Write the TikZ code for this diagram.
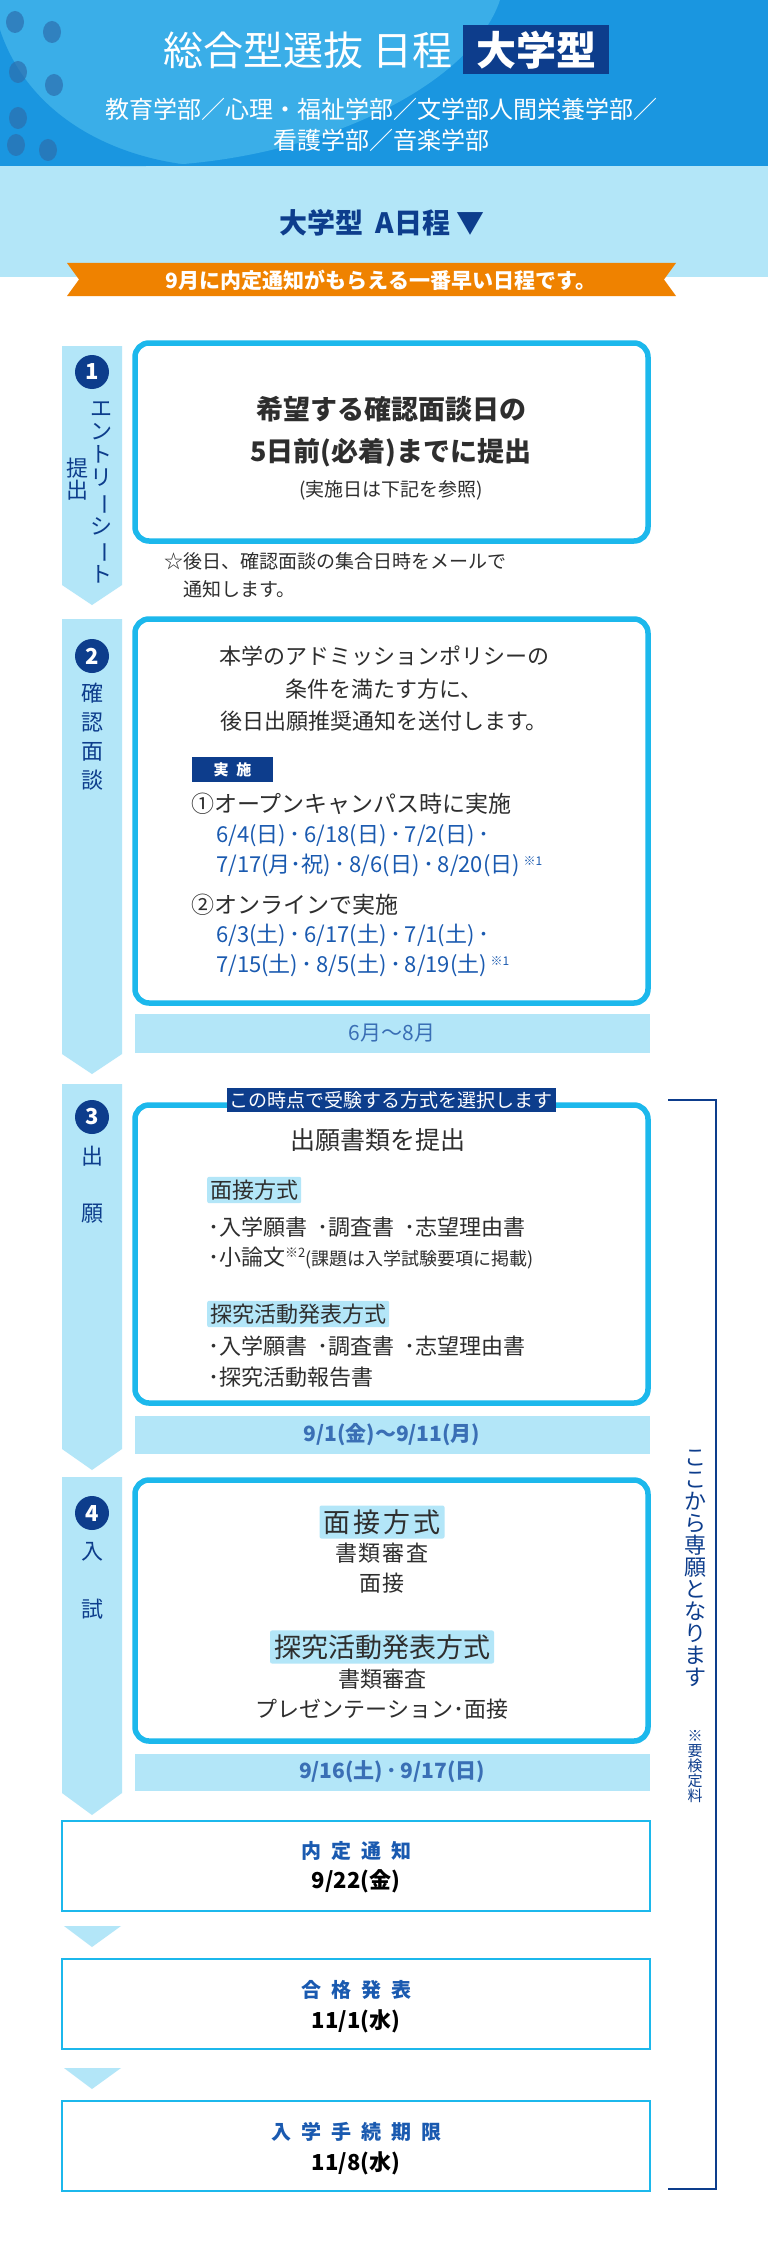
\documentclass[tikz,border=0pt]{standalone}
\usepackage{fontspec}
\setmainfont{Noto Sans CJK JP}
\usetikzlibrary{calc}
\definecolor{hdr}{HTML}{1A96E0}
\definecolor{hdrl}{HTML}{3AAEE8}
\definecolor{dot}{HTML}{2C6FAE}
\definecolor{pale}{HTML}{B3E6F8}
\definecolor{cyanb}{HTML}{1CB8EC}
\definecolor{navy}{HTML}{0D3D8C}
\definecolor{dblue}{HTML}{1A5AB0}
\definecolor{mblue}{HTML}{3A6FB5}
\definecolor{orng}{HTML}{EF8200}
\definecolor{txt}{HTML}{2E2E2E}
\newcommand\fs[1]{\fontsize{#1}{#1}\selectfont}
\newcommand\vbar{\rotatebox[origin=c]{-90}{ー}}
\tikzset{
  x=1pt,y=-1pt,
  bigbox/.style={draw=cyanb,line width=5.5pt,rounded corners=14pt,fill=white},
  thinbox/.style={draw=cyanb,line width=1.5pt,fill=white},
  sidebar/.style={fill=pale},
  numc/.style={circle,fill=navy,text=white,minimum size=34pt,inner sep=0pt,font=\fs{22}\bfseries},
  vtxt/.style={text=navy,align=center,font=\fs{22},inner sep=0pt},
  line/.style={text=txt,anchor=west,inner sep=0pt},
  dline/.style={text=dblue,anchor=west,inner sep=0pt,font=\fs{22}},
  datebar/.style={fill=pale},
  datetxt/.style={text=mblue,font=\fs{21}\bfseries,inner sep=0pt},
  hl/.style={fill=pale,rounded corners=2pt,inner sep=3pt,text=txt},
  navylab/.style={fill=navy,text=white,inner sep=3pt},
}
\begin{document}
\begin{tikzpicture}
\useasboundingbox (0,0) rectangle (768,2250);
\fill[white] (0,0) rectangle (768,2250);
% header
\fill[pale] (0,166) rectangle (768,277);
\fill[hdr] (0,0) rectangle (768,166);
\fill[hdrl] (0,0) -- (500,0) .. controls (470,90) and (300,170) .. (120,166) -- (0,166) -- cycle;
\fill[hdr] (0,30) .. controls (30,120) and (120,160) .. (200,166) -- (0,166) -- cycle;
\foreach \p in {(15,22),(52,32),(18,72),(54,85),(18,118),(48,150),(16,145)}
  \fill[dot,opacity=0.7] \p ellipse (9pt and 11pt);
\foreach \p in {(100,20),(80,60),(95,110)}
  \fill[hdrl,opacity=0.8] \p ellipse (9pt and 11pt);
\node[text=white,font=\fs{40},inner sep=0pt,anchor=east] (title) at (453,50) {総合型選抜 日程};
\node[fill=navy,text=white,font=\fs{40}\bfseries,minimum width=146pt,minimum height=49pt,inner sep=0pt] (titleb) at (536,50) {大学型};
\node[text=white,font=\fs{24},inner sep=0pt] (sub1) at (381,109) {教育学部／心理・福祉学部／文学部人間栄養学部／};
\node[text=white,font=\fs{24},inner sep=0pt] (sub2) at (381,140) {看護学部／音楽学部};
\node[text=navy,font=\fs{28}\bfseries,inner sep=0pt] (sched) at (382,223) {大学型\hspace{12pt}A日程 ▼};
% ribbon
\fill[orng] (67,263) -- (676,263) -- (664,279.5) -- (676,296) -- (67,296) -- (79,279.5) -- cycle;
\node[text=white,font=\fs{21}\bfseries,inner sep=0pt] (ribbon) at (381,280) {9月に内定通知がもらえる一番早い日程です。};
% sidebars
\fill[sidebar] (62,346) -- (122,346) -- (122,585) -- (92,605) -- (62,585) -- cycle;
\fill[sidebar] (62,619) -- (122,619) -- (122,1054) -- (92,1074) -- (62,1054) -- cycle;
\fill[sidebar] (62,1084) -- (122,1084) -- (122,1449) -- (92,1470) -- (62,1449) -- cycle;
\fill[sidebar] (62,1477) -- (122,1477) -- (122,1793) -- (92,1815) -- (62,1793) -- cycle;
\node[numc] (n1) at (92,372) {1};
\node[numc] (n2) at (92,656) {2};
\node[numc] (n3) at (92,1117) {3};
\node[numc] (n4) at (92,1513) {4};
\node[vtxt,anchor=north] (v1) at (101,402) {エ\\[1pt]ン\\[1pt]ト\\[1pt]リ\\[1pt]\vbar\\[1pt]シ\\[1pt]\vbar\\[1pt]ト};
\node[vtxt,anchor=north] (v1b) at (77,458) {提\\出};
\node[vtxt,anchor=north] (v2) at (92,683) {確\\[7pt]認\\[7pt]面\\[7pt]談};
\node[vtxt] (v3a) at (92,1156) {出};
\node[vtxt] (v3b) at (92,1214) {願};
\node[vtxt] (v4a) at (92,1552) {入};
\node[vtxt] (v4b) at (92,1609) {試};
% box 1
\draw[bigbox] (135,343) rectangle (648,541);
\node[text=txt,font=\fs{27}\bfseries,inner sep=0pt] (b1a) at (391,409) {希望する確認面談日の};
\node[text=txt,font=\fs{27}\bfseries,inner sep=0pt] (b1b) at (391,453) {5日前(必着)までに提出};
\node[text=txt,font=\fs{19},inner sep=0pt] (b1c) at (391,490) {(実施日は下記を参照)};
\node[line,font=\fs{19}] (note1) at (164,561) {☆後日、確認面談の集合日時をメールで};
\node[line,font=\fs{19}] (note2) at (183,589) {通知します。};
% box 2
\draw[bigbox] (135,619) rectangle (648,1003);
\node[text=txt,font=\fs{22},inner sep=0pt] (b2a) at (384,656) {本学のアドミッションポリシーの};
\node[text=txt,font=\fs{22},inner sep=0pt] (b2b) at (384,689) {条件を満たす方に、};
\node[text=txt,font=\fs{22},inner sep=0pt] (b2c) at (384,721) {後日出願推奨通知を送付します。};
\node[fill=navy,text=white,font=\fs{15}\bfseries,minimum width=81pt,minimum height=25pt,inner sep=0pt] (jisshi) at (232.5,769.5) {実\hspace{8pt}施};
\node[line,font=\fs{23}] (o1) at (191,804) {①オープンキャンパス時に実施};
\node[dline] (d1) at (216,836) {6/4(日)\,･\,6/18(日)\,･\,7/2(日)\,･};
\node[dline] (d2) at (216,865) {7/17(月･祝)\,･\,8/6(日)\,･\,8/20(日)\,\raisebox{7pt}{\fs{12}※1}};
\node[line,font=\fs{23}] (o2) at (191,905) {②オンラインで実施};
\node[dline] (d3) at (216,935) {6/3(土)\,･\,6/17(土)\,･\,7/1(土)\,･};
\node[dline] (d4) at (216,965) {7/15(土)\,･\,8/5(土)\,･\,8/19(土)\,\raisebox{7pt}{\fs{12}※1}};
\fill[datebar] (135,1014) rectangle (650,1053);
\node[datetxt,font=\fs{21}] (dt1) at (392,1033) {6月〜8月};
% box 3
\draw[bigbox] (135,1105) rectangle (648,1403);
\node[navylab,font=\fs{19}] (sel) at (391,1100) {この時点で受験する方式を選択します};
\node[text=txt,font=\fs{25},inner sep=0pt] (b3t) at (378,1140) {出願書類を提出};
\node[hl,font=\fs{22},anchor=west] (m1) at (207,1190) {面接方式};
\node[line,font=\fs{22}] (m1a) at (208,1227) {･入学願書\hspace{10pt}･調査書\hspace{10pt}･志望理由書};
\node[line,font=\fs{22}] (m1b) at (208,1258) {･小論文\raisebox{8pt}{\fs{13}※2}\fs{18}(課題は入学試験要項に掲載)};
\node[hl,font=\fs{22},anchor=west] (m2) at (207,1314) {探究活動発表方式};
\node[line,font=\fs{22}] (m2a) at (208,1346) {･入学願書\hspace{10pt}･調査書\hspace{10pt}･志望理由書};
\node[line,font=\fs{22}] (m2b) at (208,1377) {･探究活動報告書};
\fill[datebar] (135,1416) rectangle (650,1454);
\node[datetxt] (dt2) at (392,1435) {9/1(金)〜9/11(月)};
% box 4
\draw[bigbox] (135,1480) rectangle (648,1741);
\node[hl,font=\fs{27},inner sep=4pt] (e1) at (382,1522) {面\hspace{3pt}接\hspace{3pt}方\hspace{3pt}式};
\node[text=txt,font=\fs{22},inner sep=0pt] (e1a) at (382,1553) {書\hspace{2pt}類\hspace{2pt}審\hspace{2pt}査};
\node[text=txt,font=\fs{22},inner sep=0pt] (e1b) at (382,1583) {面\hspace{2pt}接};
\node[hl,font=\fs{27},inner sep=4pt] (e2) at (382,1647) {探究活動発表方式};
\node[text=txt,font=\fs{22},inner sep=0pt] (e2a) at (382,1679) {書類審査};
\node[text=txt,font=\fs{22},inner sep=0pt] (e2b) at (382,1709) {プレゼンテーション･面接};
\fill[datebar] (135,1754) rectangle (650,1791);
\node[datetxt] (dt3) at (392,1772) {9/16(土)\,･\,9/17(日)};
% final boxes
\draw[thinbox] (62,1821) rectangle (650,1911);
\node[text=dblue,font=\fs{20}\bfseries,inner sep=0pt] (f1a) at (356,1851) {内\hspace{10pt}定\hspace{10pt}通\hspace{10pt}知};
\node[text=black,font=\fs{22}\bfseries,inner sep=0pt] (f1b) at (356,1881) {9/22(金)};
\fill[pale] (64,1926) -- (121,1926) -- (92,1947) -- cycle;
\draw[thinbox] (62,1959) rectangle (650,2049);
\node[text=dblue,font=\fs{20}\bfseries,inner sep=0pt] (f2a) at (356,1990) {合\hspace{10pt}格\hspace{10pt}発\hspace{10pt}表};
\node[text=black,font=\fs{22}\bfseries,inner sep=0pt] (f2b) at (356,2021) {11/1(水)};
\fill[pale] (64,2068) -- (121,2068) -- (92,2089) -- cycle;
\draw[thinbox] (62,2101) rectangle (650,2191);
\node[text=dblue,font=\fs{20}\bfseries,inner sep=0pt] (f3a) at (356,2132) {入\hspace{10pt}学\hspace{10pt}手\hspace{10pt}続\hspace{10pt}期\hspace{10pt}限};
\node[text=black,font=\fs{22}\bfseries,inner sep=0pt] (f3b) at (356,2163) {11/8(水)};
% bracket
\coordinate (bt) at (668,1100);
\coordinate (bb) at (668,2189);
\draw[navy,line width=2pt] (bt) -- (716,1100) -- (716,2189) -- (bb);
\node[vtxt,anchor=north] (sen) at (695,1450) {こ\\こ\\か\\ら\\専\\願\\と\\な\\り\\ま\\す};
\node[vtxt,anchor=north,font=\fs{15}] (fee) at (695,1730) {※\\要\\検\\定\\料};
\end{tikzpicture}
\end{document}
